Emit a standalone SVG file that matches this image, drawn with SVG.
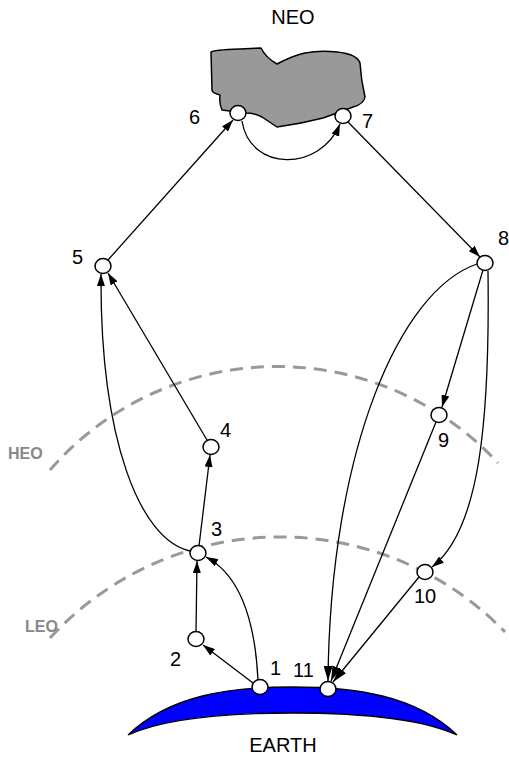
<svg xmlns="http://www.w3.org/2000/svg" width="509" height="757" viewBox="0 0 509 757">
  <style>
    .node { fill: #fff; stroke: #000; stroke-width: 1.5; }
    .edge { fill: none; stroke: #000; stroke-width: 1.3; }
    .orbit { fill: none; stroke: #999; stroke-width: 3; stroke-dasharray: 13 8; }
    .lbl { font-family: "Liberation Sans", Arial, sans-serif; font-size: 20px; fill: #000; }
    .orbit-lbl { font-family: "Liberation Sans", Arial, sans-serif; font-size: 16px; font-weight: bold; fill: #888; }
  </style>
  <defs>
    <marker id="arrow" viewBox="0 0 12 8" refX="12" refY="4" markerWidth="12" markerHeight="8" markerUnits="userSpaceOnUse" orient="auto">
      <path d="M0,0 L12,4 L0,8 Z" fill="#000"/>
    </marker>
    <marker id="arrowBig" viewBox="0 0 15 9" refX="15" refY="4.5" markerWidth="15" markerHeight="9" markerUnits="userSpaceOnUse" orient="auto">
      <path d="M0,0 L15,4.5 L0,9 Z" fill="#000"/>
    </marker>
  </defs>

  <!-- orbit bands -->
  <g id="orbits">
    <path class="orbit" d="M50,470 A301,301 0 0 1 498,463"/>
    <path class="orbit" d="M50,638 A313,313 0 0 1 505,632"/>
    <text class="orbit-lbl" x="8" y="459">HEO</text>
    <text class="orbit-lbl" x="25" y="632">LEO</text>
  </g>

  <!-- Earth -->
  <g id="earth">
    <path d="M128,735 C170,695 230,687 292,687 C355,687 415,695 457,735 C420,718 360,713 292,713 C225,713 165,718 128,735 Z" fill="#0000ff" stroke="#000" stroke-width="1.3" stroke-linejoin="miter"/>
    <text class="lbl" x="283" y="752" text-anchor="middle">EARTH</text>
  </g>

  <!-- asteroid -->
  <g id="neo">
    <path d="M211,52 Q213,50 240,49 L261,48 Q266,58 277,64 Q292,56 305,53 Q320,50 337,52 Q357,54 360,63 Q361,80 365,97 Q364,104 353,107 Q340,112 323,118 Q300,124 277,127 L262,117 Q255,113 245,113 L222,110 Q219,104 220,95 Q212,93 212,90 Z" fill="#999" stroke="#000" stroke-width="1.5" stroke-linejoin="round"/>
    <text class="lbl" x="293" y="24" text-anchor="middle">NEO</text>
  </g>

  <!-- transfer paths -->
  <g id="connectors">
    <path class="edge" d="M253,683 L203,645" marker-end="url(#arrow)"/>
    <path class="edge" d="M258,680 C255,620 240,575 206,557" marker-end="url(#arrow)"/>
    <path class="edge" d="M196,632 L197,561" marker-end="url(#arrow)"/>
    <path class="edge" d="M199,546 L210,455" marker-end="url(#arrow)"/>
    <path class="edge" d="M190,551 C140,540 100,440 101,274" marker-end="url(#arrow)"/>
    <path class="edge" d="M207,440 L108,273" marker-end="url(#arrow)"/>
    <path class="edge" d="M108,260 L233,120" marker-end="url(#arrow)"/>
    <path class="edge" d="M242,121 C250,172 320,172 340,124" marker-end="url(#arrow)"/>
    <path class="edge" d="M348,122 L480,257" marker-end="url(#arrow)"/>
    <path class="edge" d="M483,270 L442,407" marker-end="url(#arrow)"/>
    <path class="edge" d="M488,271 C490,420 480,530 432,567" marker-end="url(#arrow)"/>
    <path class="edge" d="M477,264 C400,290 330,450 328,681" marker-end="url(#arrowBig)"/>
    <path class="edge" d="M436,422 L331,681" marker-end="url(#arrowBig)"/>
    <path class="edge" d="M419,577 L333,682" marker-end="url(#arrowBig)"/>
  </g>

  <!-- waypoints -->
  <g id="n1"><ellipse class="node" cx="260" cy="687" rx="8" ry="7.5"/><text class="lbl" x="270" y="675">1</text></g>
  <g id="n2"><ellipse class="node" cx="196" cy="639" rx="8" ry="7.5"/><text class="lbl" x="170" y="666">2</text></g>
  <g id="n3"><ellipse class="node" cx="198" cy="553" rx="8" ry="7.5"/><text class="lbl" x="211" y="536">3</text></g>
  <g id="n4"><ellipse class="node" cx="211" cy="447" rx="8" ry="7.5"/><text class="lbl" x="220" y="437">4</text></g>
  <g id="n5"><ellipse class="node" cx="103" cy="266" rx="8" ry="7.5"/><text class="lbl" x="72" y="264">5</text></g>
  <g id="n6"><ellipse class="node" cx="238" cy="113" rx="8" ry="7.5"/><text class="lbl" x="189" y="124">6</text></g>
  <g id="n7"><ellipse class="node" cx="343" cy="116" rx="8" ry="7.5"/><text class="lbl" x="362" y="128">7</text></g>
  <g id="n8"><ellipse class="node" cx="485" cy="263" rx="8" ry="7.5"/><text class="lbl" x="498" y="245">8</text></g>
  <g id="n9"><ellipse class="node" cx="439" cy="415" rx="8" ry="7.5"/><text class="lbl" x="438" y="447">9</text></g>
  <g id="n10"><ellipse class="node" cx="425" cy="572" rx="8" ry="7.5"/><text class="lbl" x="414" y="603">10</text></g>
  <g id="n11"><ellipse class="node" cx="328" cy="689" rx="8" ry="7.5"/><text class="lbl" x="293" y="677">11</text></g>
</svg>
